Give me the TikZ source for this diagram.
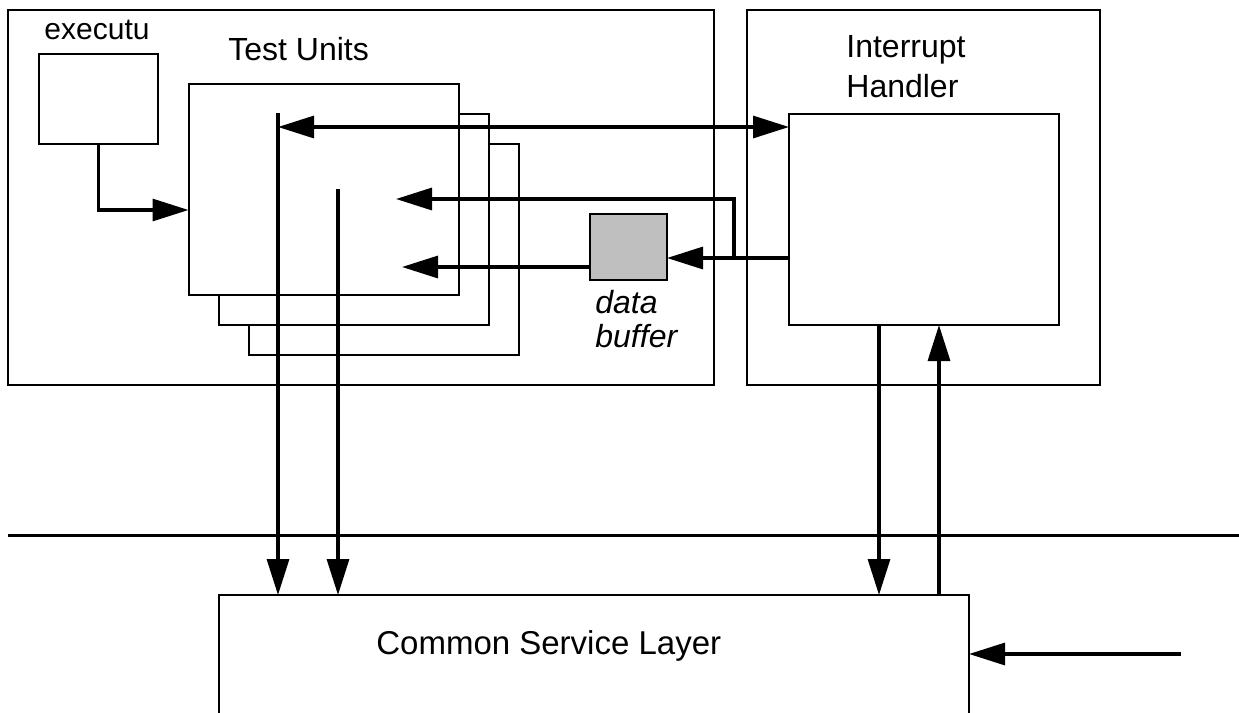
\documentclass[tikz,border=0pt]{standalone}
\usepackage{fontspec}
\setmainfont{Liberation Sans}
\usetikzlibrary{arrows.meta}
\begin{document}
\begin{tikzpicture}[x=0.5pt, y=-0.5pt,
    box/.style={draw, line width=1pt, inner sep=0pt, outer sep=0pt},
    flow/.style={line width=1.6pt, -{Triangle[length=18pt, width=11pt]}},
    label/.style={inner sep=0pt, font=\fontsize{16}{19}\selectfont}]
    \useasboundingbox (0,0) rectangle (1239,713);
    \clip (0,0) rectangle (1239,713);
    \node[box, minimum width=353pt, minimum height=187.5pt] (tester) at (361,197.5) {};
    \node[box, minimum width=176.5pt, minimum height=187.5pt] (irq) at (923.5,197.5) {};
    \node[box, minimum width=59.5pt, minimum height=45pt] (exec) at (98.5,99) {};
    \node[box, fill=white, minimum width=135pt, minimum height=105.5pt] (unitc) at (384,249.5) {};
    \node[box, fill=white, minimum width=135pt, minimum height=105.5pt] (unitb) at (353.5,219.5) {};
    \node[box, fill=white, minimum width=135pt, minimum height=105.5pt] (unita) at (323.5,189) {};
    \node[box, fill=black!25, minimum width=38.5pt, minimum height=33pt] (buffer) at (628.5,247) {};
    \node[box, minimum width=135pt, minimum height=105.5pt] (handler) at (924,219.5) {};
    \node[box, minimum width=375pt, minimum height=102.5pt] (csl) at (594,697.5) {};
    \node[label, anchor=base, font=\fontsize{15}{18}\selectfont] (execlbl) at (97,39) {executu};
    \node[label, anchor=base west] (unitlbl) at (228,60) {Test Units};
    \node[label, anchor=base west] (irqlbl) at (846,57) {Interrupt};
    \node[label, anchor=base west] (irqlblb) at (846,97) {Handler};
    \node[label, anchor=base west, font=\fontsize{16}{19}\selectfont\itshape] (buflbl) at (595,313) {data};
    \node[label, anchor=base west, font=\fontsize{16}{19}\selectfont\itshape] (buflblb) at (595,347) {buffer};
    \node[label, anchor=base west, font=\fontsize{16.5}{19}\selectfont] (csllbl) at (376,654) {Common Service Layer};
    \coordinate (ua) at (278,113);
    \coordinate (ub) at (338,189);
    \coordinate (top) at (278,127);
    \coordinate (join) at (734,258);
    \coordinate (mid) at (396,199);
    \coordinate (low) at (402,267);
    \coordinate (ha) at (879,325);
    \coordinate (hb) at (939,325);
    \coordinate (feed) at (1181,654);
    \draw[line width=1.5pt] (8,535) -- (1239,535);
    \draw[flow] (exec.south) |- ([yshift=-10.5pt]unita.west);
    \draw[flow] (ua) -- (ua |- csl.north);
    \draw[flow] (ub) -- (ub |- csl.north);
    \draw[flow, {Triangle[length=18pt, width=11pt]}-{Triangle[length=18pt, width=11pt]}] (top) -- (top -| handler.west);
    \draw[flow] (join -| handler.west) -- (join -| buffer.east);
    \draw[flow] (join) |- (mid);
    \draw[flow] (low -| buffer.west) -- (low);
    \draw[flow] (ha) -- (ha |- csl.north);
    \draw[flow] (hb |- csl.north) -- (hb);
    \draw[flow] (feed) -- (feed -| csl.east);
\end{tikzpicture}
\end{document}
